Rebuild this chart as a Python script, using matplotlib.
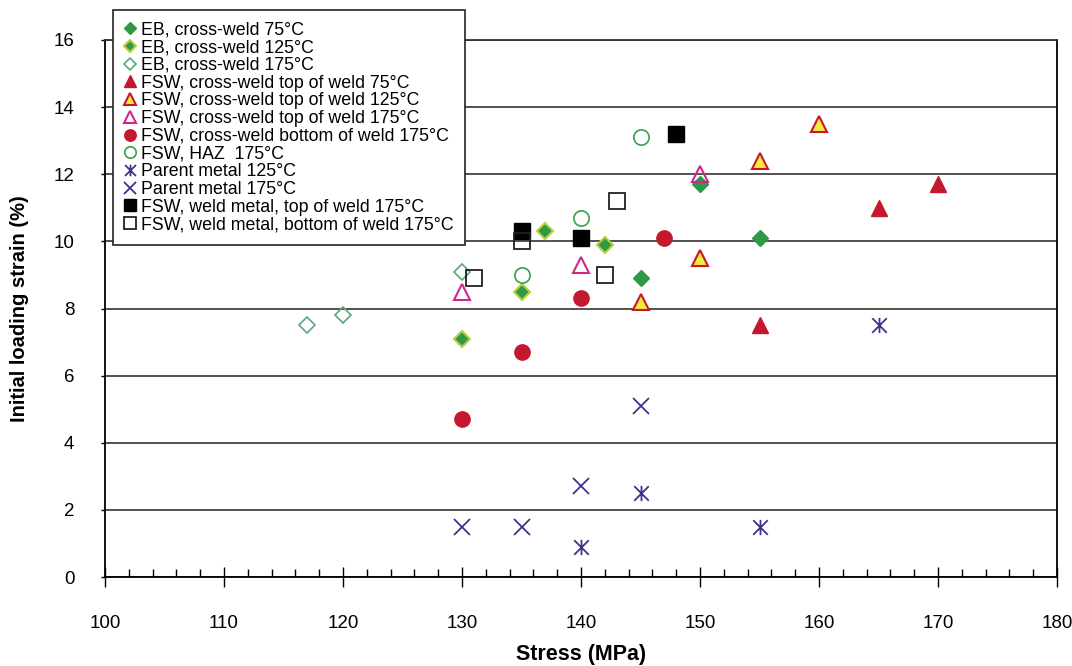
import numpy as np
import matplotlib
matplotlib.use("Agg")
import matplotlib.pyplot as plt
from matplotlib.ticker import MultipleLocator
from matplotlib.path import Path

plt.rcParams['font.family'] = ['Liberation Sans', 'DejaVu Sans']

# data: (stress MPa, initial loading strain %)
eb_75_x = [145, 150, 155]
eb_75_y = [8.9, 11.7, 10.1]
eb_125_x = [130, 135, 137, 142]
eb_125_y = [7.1, 8.5, 10.3, 9.9]
eb_175_x = [117, 120, 130]
eb_175_y = [7.5, 7.8, 9.1]
fsw_top_75_x = [155, 165, 170]
fsw_top_75_y = [7.5, 11.0, 11.7]
fsw_top_125_x = [145, 150, 155, 160]
fsw_top_125_y = [8.2, 9.5, 12.4, 13.5]
fsw_top_175_x = [130, 140, 150]
fsw_top_175_y = [8.5, 9.3, 12.0]
fsw_bot_175_x = [130, 135, 140, 147]
fsw_bot_175_y = [4.7, 6.7, 8.3, 10.1]
fsw_haz_175_x = [135, 140, 145]
fsw_haz_175_y = [9.0, 10.7, 13.1]
parent_125_x = [140, 145, 155, 165]
parent_125_y = [0.9, 2.5, 1.5, 7.5]
parent_175_x = [130, 135, 140, 145]
parent_175_y = [1.5, 1.5, 2.7, 5.1]
wm_top_175_x = [135, 140, 148]
wm_top_175_y = [10.3, 10.1, 13.2]
wm_bot_175_x = [131, 135, 142, 143]
wm_bot_175_y = [8.9, 10.0, 9.0, 11.2]

green = '#2e9a48'
red = '#c4182f'
yellow = '#f6ea3c'
magenta = '#d0268c'
navy = '#3a3590'

# asterisk: an X with a vertical bar through it
star = Path([(-1, -1), (1, 1), (-1, 1), (1, -1), (0, -1.05), (0, 1.05)],
            [Path.MOVETO, Path.LINETO, Path.MOVETO, Path.LINETO, Path.MOVETO, Path.LINETO])

fig = plt.figure(figsize=(10.72, 6.66), dpi=100)
ax = fig.add_axes([105/1072, 1-577/666, (1057-105)/1072, (577-40)/666])

ax.plot(eb_75_x, eb_75_y, 'D', ms=8.5, mfc=green, mec=green, mew=1, ls='none',
        label='EB, cross-weld 75°C')
ax.plot(eb_125_x, eb_125_y, 'D', ms=8.5, mfc=green, mec='#b8cf3c', mew=1.5, ls='none',
        label='EB, cross-weld 125°C')
ax.plot(eb_175_x, eb_175_y, 'D', ms=8.5, mfc='none', mec='#5aa67e', mew=1.2, ls='none',
        label='EB, cross-weld 175°C')
ax.plot(fsw_top_75_x, fsw_top_75_y, '^', ms=11, mfc=red, mec=red, mew=1, ls='none',
        label='FSW, cross-weld top of weld 75°C')
ax.plot(fsw_top_125_x, fsw_top_125_y, '^', ms=11, mfc=yellow, mec=red, mew=1.5, ls='none',
        label='FSW, cross-weld top of weld 125°C')
ax.plot(fsw_top_175_x, fsw_top_175_y, '^', ms=11, mfc='none', mec=magenta, mew=1.5, ls='none',
        label='FSW, cross-weld top of weld 175°C')
ax.plot(fsw_bot_175_x, fsw_bot_175_y, 'o', ms=11, mfc=red, mec=red, mew=1, ls='none',
        label='FSW, cross-weld bottom of weld 175°C')
ax.plot(fsw_haz_175_x, fsw_haz_175_y, 'o', ms=11, mfc='none', mec='#3a9f4c', mew=1.2, ls='none',
        label='FSW, HAZ  175°C')
ax.plot(parent_125_x, parent_125_y, marker=star, ms=11, mfc='none', mec=navy, mew=1.3, ls='none',
        label='Parent metal 125°C')
ax.plot(parent_175_x, parent_175_y, 'x', ms=11, mec=navy, mew=1.3, ls='none',
        label='Parent metal 175°C')
ax.plot(wm_top_175_x, wm_top_175_y, 's', ms=11, mfc='black', mec='black', mew=1, ls='none',
        label='FSW, weld metal, top of weld 175°C')
ax.plot(wm_bot_175_x, wm_bot_175_y, 's', ms=11, mfc='none', mec='#222222', mew=1.3, ls='none',
        label='FSW, weld metal, bottom of weld 175°C')

ax.set_xlim(100, 180)
ax.set_ylim(0, 16)
ax.xaxis.set_major_locator(MultipleLocator(10))
ax.xaxis.set_minor_locator(MultipleLocator(2))
ax.yaxis.set_major_locator(MultipleLocator(2))
ax.grid(True, axis='y', color='#333333', lw=1.2)
ax.set_axisbelow(True)

ax.tick_params(axis='x', which='major', direction='inout', length=14, width=1,
               pad=20, labelsize=13.5)
ax.tick_params(axis='x', which='minor', direction='in', length=6, width=1)
ax.tick_params(axis='y', which='major', direction='out', length=3, width=1,
               pad=19, labelsize=13.5)
for s in ax.spines.values():
    s.set_linewidth(1.3)
ax.spines['top'].set_color('#333333')

ax.set_xlabel('Stress (MPa)', fontsize=15.5, fontweight='bold', labelpad=9)
ax.set_ylabel('Initial loading strain (%)', fontsize=14.5, fontweight='bold', labelpad=18)

leg = fig.legend(loc='upper left', bbox_to_anchor=(113/1072, 1-10/666),
                 bbox_transform=fig.transFigure, fontsize=12.8, frameon=True,
                 fancybox=False, edgecolor='#222222', framealpha=1,
                 handlelength=0.6, handletextpad=0.3, labelspacing=0.04,
                 borderpad=0.65, borderaxespad=0, markerscale=0.75)
leg.get_frame().set_linewidth(1.2)
leg.set_zorder(10)

fig.savefig('out.png', dpi=100)
